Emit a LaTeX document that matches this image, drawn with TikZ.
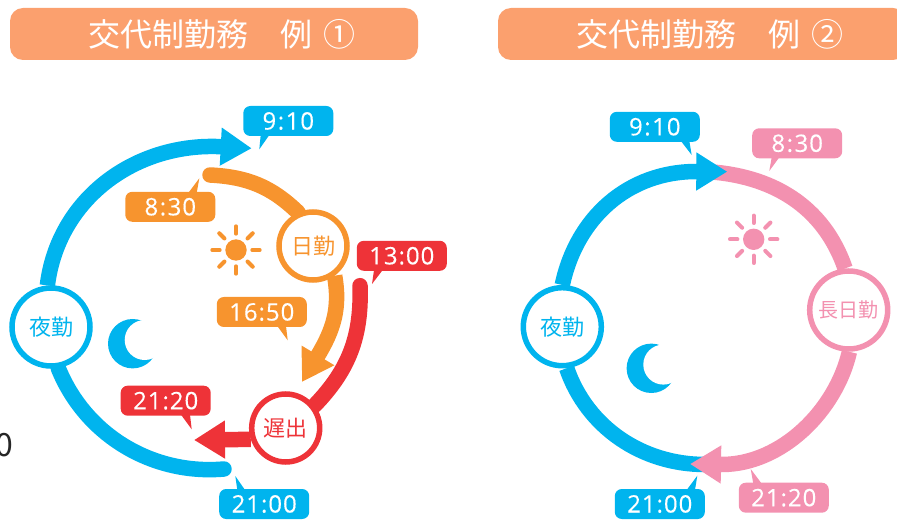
\documentclass[tikz,border=0pt]{standalone}
\usepackage{fontspec}
\usetikzlibrary{arrows.meta,backgrounds}
\newfontfamily\jpfont{Noto Sans CJK JP}
\newfontfamily\numfont[LetterSpace=4,FakeBold=0.3]{Open Sans}
\definecolor{cy}{HTML}{00B4EE}
\definecolor{og}{HTML}{F7942E}
\definecolor{rd}{HTML}{EE3338}
\definecolor{pk}{HTML}{F391B0}
\definecolor{hd}{HTML}{FBA06E}
\newcommand{\cln}{\hspace{1.5pt}:\hspace{1.5pt}}
\tikzset{
  x=1pt,y=1pt,
  tagbox/.style={fill=#1,rounded corners=7pt,minimum width=90pt,minimum height=30pt,inner sep=0pt,text=white,font=\numfont\fontsize{24}{24}\selectfont},
  shiftnode/.style={circle,draw=#1,fill=white,line width=5.5pt,text=#1,inner sep=0pt,font=\jpfont\fontsize{22}{22}\selectfont},
  big/.style={shiftnode=#1,minimum size=78pt},
  small/.style={shiftnode=#1,minimum size=68pt},
  band/.style={draw=#1,line width=15.5pt},
  bandhead/.style={-{Triangle[length=31pt,width=36pt]}},
  header/.style={fill=hd,rounded corners=13pt,minimum width=408pt,minimum height=52pt,inner sep=0pt},
  headertext/.style={text=white,inner sep=0pt,font=\jpfont\fontsize{32}{32}\selectfont}
}
\newcommand{\sunicon}[3]{%
  \fill[#3] (#1,#2) circle (10.7pt);
  \foreach \a in {0,45,...,315}
    \draw[#3,line width=4pt,line cap=round] (#1,#2) ++(\a:16.3pt) -- ++(\a:7.4pt);
}
\newcommand{\moonicon}[3]{%
  \fill[#3] (#1,#2) circle (24.7pt);
  \fill[white] (#1,#2) ++(12pt,3.7pt) circle (20pt);
}
\begin{document}
\begin{tikzpicture}
\useasboundingbox (0,0) rectangle (897,520);
\clip (0,0) rectangle (897,520);
% headers
\node[header] (h1) at (214,486) {};
\node[headertext] (h1t) at (222,486) {交代制勤務\hspace{1em}例\hspace{0.35em}①};
\node[header] (h2) at (702,486) {};
\node[headertext] (h2t) at (710,486) {交代制勤務\hspace{1em}例\hspace{0.35em}②};
% stray text
\node[inner sep=0pt,text=black!85,font=\jpfont\fontsize{32}{32}\selectfont] (stray) at (4.5,75) {0};
% left
\node[big=cy] (yakin) at (51,193) {夜勤};
\node[small=og] (hikin) at (313,274) {日勤};
\node[small=rd] (chide) at (285.7,92) {遅出};
\coordinate (baseA) at (221.7,373.3);
\coordinate (tipA) at (251.7,371.7);
\coordinate (endA) at (224,51);
\coordinate (startB) at (210,345);
\coordinate (baseB) at (317,163);
\coordinate (tipB) at (302,138);
\coordinate (startC) at (360,234.3);
\coordinate (tipC) at (194,80);
\begin{scope}[on background layer]
\draw[band=cy,bandhead] (yakin.95) to[out=83,in=177] (baseA) -- (tipA);
\draw[band=cy,line cap=round] (yakin.280) to[out=-68,in=185,looseness=0.95] (endA);
\draw[band=og,line cap=round] (startB) to[out=-3,in=136] (hikin.114);
\draw[band=og,bandhead] (hikin.-54) to[out=-80,in=58.6] (baseB) -- (tipB);
\draw[band=rd,line cap=round] (startC) to[out=-88,in=46] (chide.38);
\draw[band=rd,bandhead] (chide.198) -- (tipC);
\end{scope}
\sunicon{236}{270}{og}
\moonicon{132.7}{176.3}{cy}
\node[tagbox=cy] (a910) at (288.3,399) {9\cln 10};
\fill[cy] (260.7,385) -- (269.3,385) -- (259.3,370.7) -- cycle;
\node[tagbox=og] (a830) at (170.3,313.2) {8\cln 30};
\fill[og] (188.3,327) -- (196.7,327) -- (199.3,341.7) -- cycle;
\node[tagbox=rd] (a1300) at (401.8,264.2) {13:00};
\fill[rd] (374,250) -- (382.7,250) -- (372,236) -- cycle;
\node[tagbox=og] (a1650) at (261.8,208) {16:50};
\fill[og] (277.3,194) -- (286,194) -- (287.7,179.7) -- cycle;
\node[tagbox=rd] (a2120) at (165.7,119.3) {21:20};
\fill[rd] (181,105.3) -- (190,105.3) -- (191.7,90.7) -- cycle;
\node[tagbox=cy] (a2100) at (264.2,16) {21:00};
\fill[cy] (245,30) -- (237.3,30) -- (235.3,44) -- cycle;
% right
\node[big=cy] (yakinb) at (562.3,193.3) {夜勤};
\node[big=pk,font=\jpfont\fontsize{20}{20}\selectfont] (choni) at (848.7,210) {長日勤};
\coordinate (baseD) at (696.5,348.5);
\coordinate (tipD) at (727.3,348.3);
\coordinate (startE) at (705,348.5);
\coordinate (baseF) at (721.7,55.5);
\coordinate (tipF) at (690,56);
\coordinate (endG) at (705,55.5);
\begin{scope}[on background layer]
\draw[band=pk] (startE) to[out=-3,in=109] (choni.95);
\draw[band=cy,bandhead] (yakinb.90) to[out=78,in=180] (baseD) -- (tipD);
\draw[band=cy] (yakinb.276) to[out=-71,in=180,looseness=0.95] (endG);
\draw[band=pk,bandhead] (choni.271) to[out=-103,in=0,looseness=0.9] (baseF) -- (tipF);
\end{scope}
\sunicon{753.7}{280.7}{pk}
\moonicon{651.3}{151.7}{cy}
\node[tagbox=cy] (b910) at (654.8,393.2) {9\cln 10};
\fill[cy] (680.7,379.3) -- (689.3,379.3) -- (691.7,365) -- cycle;
\node[tagbox=pk] (b830) at (797.2,376.7) {8\cln 30};
\fill[pk] (771.7,362.7) -- (779.3,362.7) -- (769.3,349) -- cycle;
\node[tagbox=cy] (b2100) at (659.8,16) {21:00};
\fill[cy] (686.7,30) -- (695,30) -- (697.3,44.3) -- cycle;
\node[tagbox=pk] (b2120) at (783.8,22.3) {21:20};
\fill[pk] (761.7,36.3) -- (753.3,36.3) -- (750.7,51) -- cycle;
\end{tikzpicture}
\end{document}
